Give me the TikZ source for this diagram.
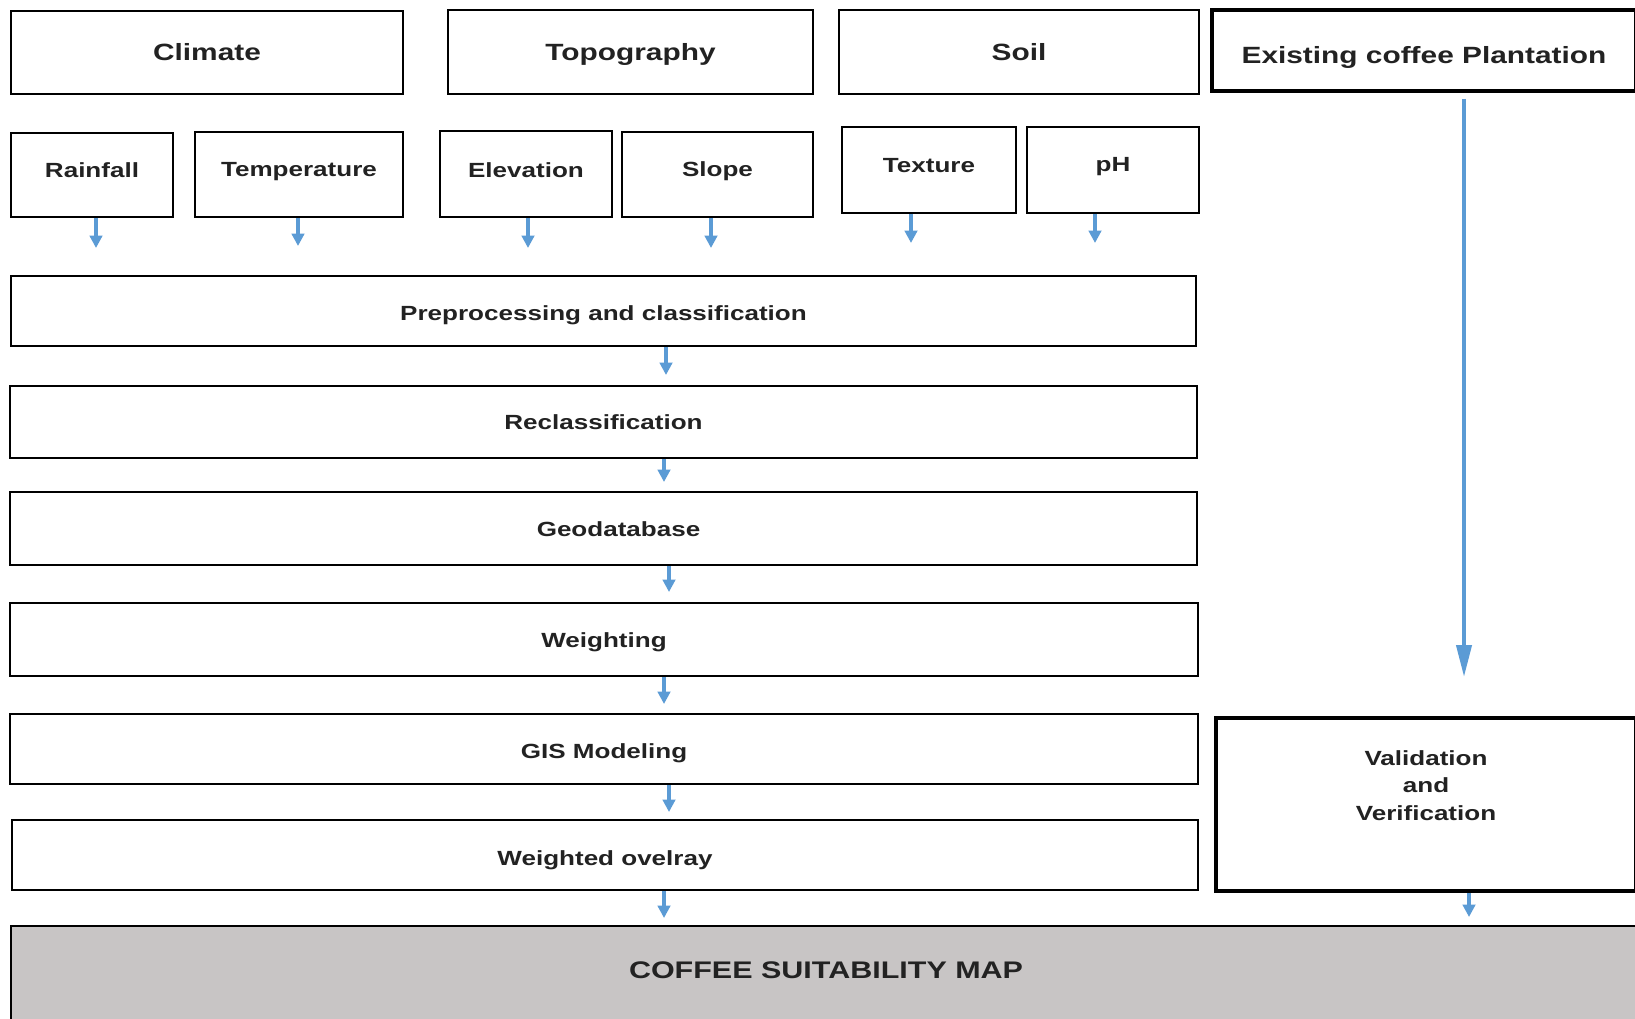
\documentclass[tikz,border=0pt]{standalone}
\usepackage{fontspec}
\setmainfont[FakeStretch=1.27]{Liberation Sans}
\usetikzlibrary{arrows.meta}
\definecolor{arrblue}{RGB}{91,155,213}
\definecolor{mapgray}{RGB}{200,197,197}
\definecolor{txtgray}{RGB}{34,34,34}
\newcommand\mvtxt[2]{\raisebox{#1}[\height][\depth]{#2}}
\begin{document}
\begin{tikzpicture}[x=1pt,y=-1pt,
  box/.style={draw=black,line width=2pt,rectangle,inner sep=0pt,anchor=north west,text=txtgray,font=\bfseries\fontsize{20.5}{25}\selectfont},
  hbox/.style={box,font=\bfseries\fontsize{23.5}{28}\selectfont},
  tbox/.style={box,line width=4pt},
  ctxt/.style={text=txtgray,align=center,inner sep=0pt},
  arr/.style={draw=arrblue,line width=3.2pt,-{Triangle[width=12.5pt,length=12.5pt]}},
  bigarr/.style={draw=arrblue,line width=4pt,-{Triangle[width=15pt,length=32pt]}}]
\useasboundingbox (0,0) rectangle (1635,1019);
\fill[white] (0,0) rectangle (1635,1019);

% top headers
\node[hbox,minimum width=392pt,minimum height=83pt] (clim) at (10,10) {Climate};
\node[hbox,minimum width=365pt,minimum height=84pt] (topo) at (447,9) {\mvtxt{-2pt}{Topography}};
\node[hbox,minimum width=360pt,minimum height=84pt] (soil) at (838,9) {Soil};
\node[tbox,font=\bfseries\fontsize{23.5}{28}\selectfont,minimum width=424pt,minimum height=81pt] (exist) at (1210,8) {\mvtxt{-7pt}{Existing coffee Plantation}};

% factor boxes
\node[box,minimum width=162pt,minimum height=84pt] (rain) at (10,132) {\mvtxt{5pt}{Rainfall}};
\node[box,minimum width=208pt,minimum height=85pt] (temp) at (194,131) {\mvtxt{3pt}{Temperature}};
\node[box,minimum width=172pt,minimum height=86pt] (elev) at (439,130) {\mvtxt{4pt}{Elevation}};
\node[box,minimum width=191pt,minimum height=85pt] (slope) at (621,131) {\mvtxt{3pt}{Slope}};
\node[box,minimum width=174pt,minimum height=86pt] (textu) at (841,126) {\mvtxt{4pt}{Texture}};
\node[box,minimum width=172pt,minimum height=86pt] (ph) at (1026,126) {\mvtxt{3pt}{pH}};

% process boxes
\node[box,minimum width=1185pt,minimum height=70pt] (pre) at (10,275) {\mvtxt{-4pt}{Preprocessing and classification}};
\node[box,minimum width=1187pt,minimum height=72pt] (recl) at (9,385) {Reclassification};
\node[box,minimum width=1187pt,minimum height=73pt,label={[ctxt,font=\bfseries\fontsize{20.5}{25}\selectfont,xshift=15pt,yshift=-1pt]center:Geodatabase}] (geo) at (9,491) {};
\node[box,minimum width=1188pt,minimum height=73pt] (wgt) at (9,602) {\mvtxt{-3pt}{Weighting}};
\node[box,minimum width=1188pt,minimum height=70pt] (gis) at (9,713) {\mvtxt{-4pt}{GIS Modeling}};
\node[box,minimum width=1186pt,minimum height=70pt] (wov) at (11,819) {\mvtxt{-5pt}{Weighted ovelray}};

% validation
\node[tbox,minimum width=420pt,minimum height=173pt,label={[ctxt,font=\bfseries\fontsize{20.5}{27.5}\selectfont,yshift=19pt]center:Validation\\and\\Verification}] (val) at (1214,716) {};

% map
\node[box,fill=mapgray,minimum width=1630pt,minimum height=110pt,label={[ctxt,font=\bfseries\fontsize{24}{29}\selectfont,yshift=11pt]center:COFFEE SUITABILITY MAP}] (map) at (10,925) {};

% x positions of arrows
\coordinate (xa) at (96,0);
\coordinate (xb) at (298,0);
\coordinate (xc) at (528,0);
\coordinate (xd) at (711,0);
\coordinate (xe) at (911,0);
\coordinate (xf) at (1095,0);
\coordinate (xg) at (1464,0);
\coordinate (xh) at (1469,0);
\coordinate (p1) at (666,0);
\coordinate (p2) at (664,0);
\coordinate (p3) at (669,0);

% small top arrows (free ends)
\draw[arr] (rain.south -| xa) -- ++(0,30);
\draw[arr] (temp.south -| xb) -- ++(0,28);
\draw[arr] (elev.south -| xc) -- ++(0,30);
\draw[arr] (slope.south -| xd) -- ++(0,30);
\draw[arr] (textu.south -| xe) -- ++(0,29);
\draw[arr] (ph.south -| xf) -- ++(0,29);

% process chain
\draw[arr] (pre.south -| p1) -- ([yshift=10pt]recl.north -| p1);
\draw[arr] (recl.south -| p2) -- ([yshift=9pt]geo.north -| p2);
\draw[arr] (geo.south -| p3) -- ([yshift=10pt]wgt.north -| p3);
\draw[arr] (wgt.south -| p2) -- ([yshift=9pt]gis.north -| p2);
\draw[arr] (gis.south -| p3) -- ([yshift=7pt]wov.north -| p3);
\draw[arr] (wov.south -| p2) -- ([yshift=7pt]map.north -| p2);

% right column
\draw[bigarr] ([yshift=-6pt]exist.south -| xg) -- ([yshift=39pt]val.north -| xg);
\draw[arr] (val.south -| xh) -- ([yshift=8pt]map.north -| xh);
\end{tikzpicture}
\end{document}
